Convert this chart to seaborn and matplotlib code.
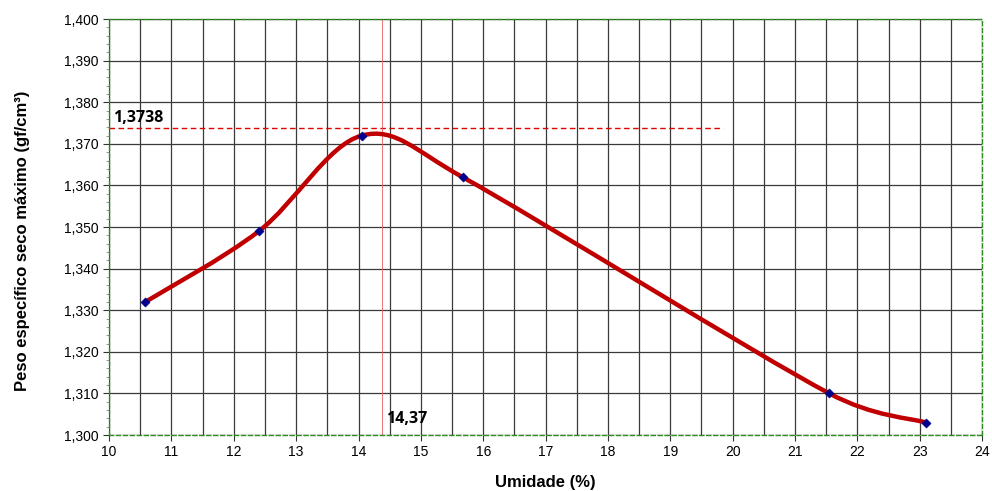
import matplotlib
matplotlib.use("Agg")
import matplotlib.pyplot as plt
from matplotlib.path import Path
from matplotlib.patches import PathPatch
from matplotlib.ticker import FuncFormatter, MultipleLocator
import numpy as np
import pandas as pd
import seaborn as sns

# dados do ensaio de compactacao
umidade = [10.58, 12.40, 14.05, 15.67, 21.55, 23.10]
peso_esp = [1.332, 1.349, 1.372, 1.362, 1.310, 1.303]
umidade_otima = 14.37
peso_max = 1.3738

df = pd.DataFrame({'umidade': umidade, 'peso': peso_esp})

sns.set_style("white")
plt.rcParams['font.family'] = ['Liberation Sans', 'DejaVu Sans']
plt.rcParams['text.color'] = 'black'
plt.rcParams['axes.labelcolor'] = 'black'
plt.rcParams['xtick.labelcolor'] = 'black'
plt.rcParams['ytick.labelcolor'] = 'black'

fig = plt.figure(figsize=(9.92, 4.91), dpi=100)
ax = fig.add_axes([0.11, 0.114, 0.88, 0.847])
ax.set_xlim(10, 24)
ax.set_ylim(1.300, 1.400)


def smooth_path(ax, xs, ys):
    # linha suavizada estilo Excel: Bezier com tangente (p2-p0)/6,
    # limitada a metade do segmento (medido em pixels)
    pts = np.column_stack([xs, ys])
    disp = ax.transData.transform(pts)
    n = len(pts)

    def ctrl(i, j):
        # ponto de controle saindo de i em direcao ao vizinho j
        a = max(i - 1, 0)
        b = min(i + 1, n - 1)
        sign = 1 if j > i else -1
        d = sign * (disp[b] - disp[a]) / 6
        seg = np.linalg.norm(disp[j] - disp[i])
        ln = np.linalg.norm(d)
        if ln > seg / 2:
            d = d * (seg / 2) / ln
        return disp[i] + d

    verts = [disp[0]]
    codes = [Path.MOVETO]
    for i in range(n - 1):
        verts += [ctrl(i, i + 1), ctrl(i + 1, i), disp[i + 1]]
        codes += [Path.CURVE4] * 3
    verts = ax.transData.inverted().transform(np.array(verts))
    return Path(verts, codes)


ax.xaxis.set_major_locator(MultipleLocator(1))
ax.xaxis.set_minor_locator(MultipleLocator(0.5))
ax.yaxis.set_major_locator(MultipleLocator(0.01))
ax.yaxis.set_minor_locator(MultipleLocator(0.002))
ax.grid(which='major', color='#3a3a3a', lw=0.9)
ax.grid(which='minor', axis='x', color='#3a3a3a', lw=0.9)
ax.set_axisbelow(True)

ax.add_patch(PathPatch(smooth_path(ax, df['umidade'].values, df['peso'].values),
                       facecolor='none', edgecolor='#C00000', lw=3.2, zorder=3))
sns.scatterplot(data=df, x='umidade', y='peso', marker='D', color='#00008B',
                s=22, edgecolor='#00008B', zorder=4, ax=ax)

ax.hlines(peso_max, 10, 19.85, colors='#E00000', linestyles=(0, (4, 2.5)), lw=1, zorder=2)
ax.axvline(umidade_otima, color='#E86060', lw=0.6, zorder=2)

ax.text(10.06, 1.3752, '1,3738', fontsize=11.5, fontweight='bold',
        family=['Open Sans', 'DejaVu Sans'], va='baseline', ha='left')
ax.text(14.44, 1.3030, '14,37', fontsize=11.5, fontweight='bold',
        family=['Open Sans', 'DejaVu Sans'], va='baseline', ha='left')

ax.yaxis.set_major_formatter(FuncFormatter(lambda v, p: f"{v:.3f}".replace('.', ',')))
ax.xaxis.set_major_formatter(FuncFormatter(lambda v, p: f"{v:.0f}"))
ax.tick_params(axis='both', which='major', length=4, labelsize=10, direction='out',
               left=True, bottom=True, color='#333333')
ax.tick_params(axis='y', which='minor', length=2.5, left=True, color='#888888')
ax.tick_params(axis='x', which='minor', length=0, bottom=False)

for s in ax.spines.values():
    s.set_color('#2E8B22')
    s.set_linestyle((0, (3, 2)))
    s.set_linewidth(1)

ax.set_xlabel('Umidade (%)', fontsize=12, fontweight='bold', labelpad=11)
ax.set_ylabel('Peso específico seco máximo (gf/cm³)', fontsize=12, fontweight='bold')
ax.yaxis.set_label_coords(-0.091, 0.466)

fig.savefig('out.png', dpi=100)
